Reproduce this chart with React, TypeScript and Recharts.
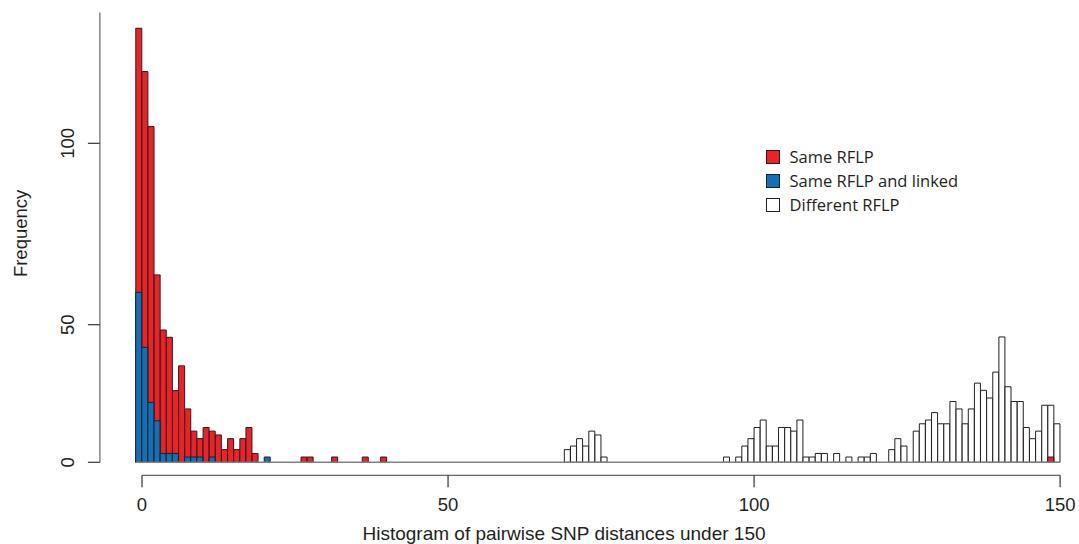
import React from 'react';
import { BarChart, Bar, XAxis, YAxis, ReferenceLine, Legend } from 'recharts';

// ---------------- Data ----------------
// Histogram bins: each bin (d-1, d] is labelled by its distance d.
const binDistances: number[] = Array.from({ length: 151 }, (_, i) => i);

const sameRflpDistances = [0, 1, 2, 3, 4, 5, 6, 7, 8, 9, 10, 11, 12, 13, 14, 15, 16, 17, 18, 19, 27, 28, 32, 37, 40, 149];
const sameRflpValues = [128.9, 118.2, 104.3, 64.5, 48.4, 46.2, 29.2, 37.3, 22.9, 14.7, 11.7, 16.1, 14.7, 13.2, 7.0, 11.7, 7.0, 11.7, 16.1, 5.2, 3.4, 3.4, 3.4, 3.4, 3.4, 3.4];

const linkedDistances = [0, 1, 2, 3, 4, 5, 6, 8, 9, 10, 12, 21];
const linkedValues = [59.5, 43.1, 25.2, 18.6, 5.2, 5.2, 5.2, 3.4, 3.4, 3.4, 3.4, 3.4];

const differentDistances = [70, 71, 72, 73, 74, 75, 76, 96, 98, 99, 100, 101, 102, 103, 104, 105, 106, 107, 108, 109, 110, 111, 112, 114, 116, 118, 119, 120, 123, 124, 125, 127, 128, 129, 130, 131, 132, 133, 134, 135, 136, 137, 138, 139, 140, 141, 142, 143, 144, 145, 146, 147, 148, 149, 150];
const differentValues = [7.0, 8.6, 11.7, 8.6, 14.7, 13.2, 3.4, 3.4, 3.4, 8.6, 11.7, 16.1, 18.9, 8.6, 8.6, 16.1, 16.1, 14.7, 18.9, 3.4, 3.4, 5.2, 5.2, 5.2, 3.4, 3.4, 3.4, 5.2, 7.0, 11.7, 8.6, 14.7, 17.5, 18.9, 21.6, 17.5, 17.5, 25.5, 22.9, 17.5, 22.9, 31.7, 29.3, 26.7, 35.3, 46.3, 30.5, 25.5, 25.5, 16.1, 11.7, 14.7, 24.2, 24.2, 17.5];

const xTicks = [0, 50, 100, 150];
const yTicks = [0, 50, 100];

const seriesNames = {
  same: 'Same RFLP',
  linked: 'Same RFLP and linked',
  different: 'Different RFLP',
};
const legendOrder = [seriesNames.same, seriesNames.linked, seriesNames.different];

const xTitle = 'Histogram of pairwise SNP distances under 150';
const yTitle = 'Frequency';

// ---------------- Table ----------------
function lookup(ds: number[], vs: number[], d: number): number {
  const i = ds.indexOf(d);
  return i >= 0 ? vs[i] : 0;
}

const rows = binDistances.map((d) => ({
  distance: d,
  mid: d - 0.5,
  different: lookup(differentDistances, differentValues, d),
  same: lookup(sameRflpDistances, sameRflpValues, d),
  linked: lookup(linkedDistances, linkedValues, d),
}));

// ---------------- Power scale for the frequency axis ----------------
function powScale(exponent: number): any {
  let dom: number[] = [0, 1];
  let rng: number[] = [0, 1];
  const t = (v: number) => Math.sign(v) * Math.pow(Math.abs(v), exponent);
  const tInv = (v: number) => Math.sign(v) * Math.pow(Math.abs(v), 1 / exponent);
  const s: any = (v: any) => {
    const a = t(dom[0]);
    const b = t(dom[dom.length - 1]);
    if (b === a) return rng[0];
    return rng[0] + ((t(Number(v)) - a) / (b - a)) * (rng[rng.length - 1] - rng[0]);
  };
  s.domain = (d?: any[]) => {
    if (d === undefined) return dom.slice();
    dom = d.map(Number);
    return s;
  };
  s.range = (r?: any[]) => {
    if (r === undefined) return rng.slice();
    rng = r.map(Number);
    return s;
  };
  s.invert = (px: number) => {
    const a = t(dom[0]);
    const b = t(dom[dom.length - 1]);
    return tInv(a + ((px - rng[0]) / (rng[rng.length - 1] - rng[0])) * (b - a));
  };
  s.copy = () => powScale(exponent).domain(dom).range(rng);
  s.ticks = (count: number = 5) => {
    const a = dom[0];
    const b = dom[dom.length - 1];
    const out: number[] = [];
    const step = (b - a) / Math.max(1, count);
    for (let i = 0; i <= count; i++) out.push(a + i * step);
    return out;
  };
  s.nice = () => s;
  s.clamp = () => s;
  s.tickFormat = () => (v: any) => String(v);
  return s;
}

const freqScale = powScale(1.213);

// ---------------- Styling ----------------
const AXIS_FONT = '"Liberation Sans", Arial, Helvetica, sans-serif';
const TEXT_COLOR = '#231f20';
const RED = '#ec2227';
const BLUE = '#1170b8';

// axis lines/tick marks are offset from the plot region as in the reference
const css = `
.recharts-xAxis { transform: translateY(13px); }
.recharts-yAxis { transform: translateX(-36px); }
`;

const YTick = (props: any) => {
  const { x, y, payload } = props;
  return (
    <text
      x={x}
      y={y}
      transform={`rotate(-90 ${x} ${y})`}
      textAnchor="middle"
      fontSize={18.5}
      fill={TEXT_COLOR}
      fontFamily={AXIS_FONT}
    >
      {payload.value}
    </text>
  );
};

const renderLegend = (props: any) => {
  const payload: any[] = props.payload || [];
  const items = legendOrder
    .map((n) => payload.find((p: any) => p.value === n))
    .filter(Boolean);
  return (
    <div style={{ fontFamily: '"Open Sans", sans-serif', fontSize: 16.5, color: TEXT_COLOR }}>
      {items.map((it: any) => (
        <div key={it.value} style={{ display: 'flex', alignItems: 'center', height: 24, whiteSpace: 'nowrap' }}>
          <span
            style={{
              display: 'inline-block',
              width: 13.5,
              height: 13.5,
              boxSizing: 'border-box',
              border: `1px solid ${TEXT_COLOR}`,
              background: it.color,
              marginRight: 10,
            }}
          />
          <span style={{ lineHeight: '20px' }}>{it.value}</span>
        </div>
      ))}
    </div>
  );
};

export default function App() {
  return (
    <div style={{ position: 'absolute', left: 0, top: 0, width: 1079, height: 544, background: '#ffffff' }}>
      <style>{css}</style>
      <BarChart
        width={1079}
        height={544}
        data={rows}
        margin={{ top: 12.5, right: 18.9, bottom: 0, left: 0 }}
        barCategoryGap={0}
        barGap="-100%"
        style={{ fontFamily: AXIS_FONT }}
      >
        <XAxis
          type="number"
          dataKey="mid"
          domain={[-1, 150]}
          ticks={xTicks}
          height={81.7}
          tickSize={12}
          tickMargin={24}
          axisLine={{ stroke: '#666', strokeWidth: 1.2, strokeDasharray: '0 6.1 2000' }}
          tickLine={{ stroke: '#333', strokeWidth: 1.2 }}
          tick={{ fontSize: 18.5, fill: TEXT_COLOR, fontFamily: AXIS_FONT }}
          label={{ value: xTitle, position: 'center', dx: -34, dy: 30, fontSize: 19, fill: TEXT_COLOR, fontFamily: AXIS_FONT }}
        />
        <YAxis
          type="number"
          domain={[0, 132.75]}
          scale={freqScale}
          ticks={yTicks}
          width={135.9}
          tickSize={12}
          tickMargin={49.4}
          axisLine={{ stroke: '#666', strokeWidth: 1.2 }}
          tickLine={{ stroke: '#333', strokeWidth: 1.2 }}
          tick={<YTick />}
          label={{ value: yTitle, angle: -90, position: 'center', dx: -48, dy: -4, fontSize: 18.5, fill: TEXT_COLOR, fontFamily: AXIS_FONT }}
        />
        <ReferenceLine y={0} stroke="#808080" strokeWidth={1.5} />
        <Bar dataKey="different" name={seriesNames.different} fill="#ffffff" stroke={TEXT_COLOR} strokeWidth={1} isAnimationActive={false} />
        <Bar dataKey="same" name={seriesNames.same} fill={RED} stroke={TEXT_COLOR} strokeWidth={1} isAnimationActive={false} />
        <Bar dataKey="linked" name={seriesNames.linked} fill={BLUE} stroke={TEXT_COLOR} strokeWidth={1} isAnimationActive={false} />
        <Legend
          layout="vertical"
          align="center"
          verticalAlign="middle"
          content={renderLegend}
          wrapperStyle={{ left: 766, top: 145, width: 280 }}
        />
      </BarChart>
    </div>
  );
}
